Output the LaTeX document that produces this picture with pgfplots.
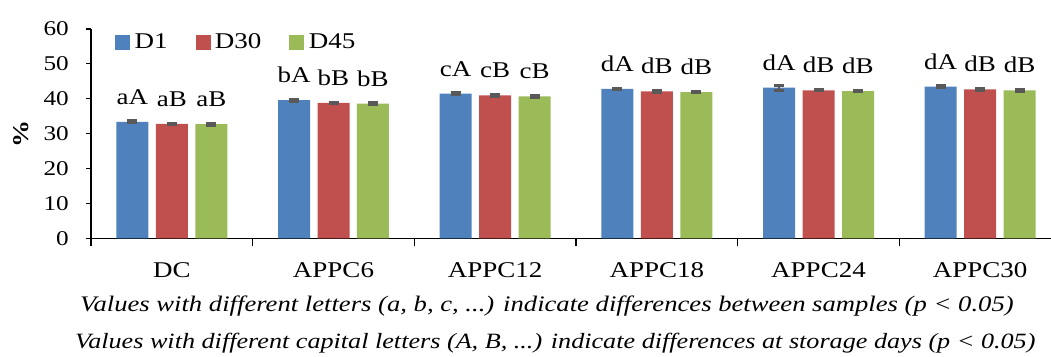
\documentclass[border=0pt]{standalone}
\usepackage{pgfplots}
\usepackage{pgfplotstable}
\pgfplotsset{compat=1.18}
\usepackage{fontspec}
\setmainfont[FakeStretch=1.2]{Liberation Serif}
\definecolor{cblue}{HTML}{4F81BD}
\definecolor{cred}{HTML}{C0504D}
\definecolor{cgreen}{HTML}{9BBB59}
\definecolor{cerr}{HTML}{595959}

\pgfplotstableread{
x y e lab
0 33.4 0.30 aA
1 39.6 0.30 bA
2 41.5 0.20 cA
3 42.8 0.20 dA
4 43.2 0.70 dA
5 43.5 0.25 dA
}\tabA
\pgfplotstableread{
x y e lab
0 32.8 0.25 aB
1 38.8 0.25 bB
2 41.0 0.35 cB
3 42.1 0.30 dB
4 42.4 0.15 dB
5 42.7 0.35 dB
}\tabB
\pgfplotstableread{
x y e lab
0 32.7 0.30 aB
1 38.6 0.25 bB
2 40.7 0.20 cB
3 41.9 0.15 dB
4 42.2 0.15 dB
5 42.4 0.20 dB
}\tabC

\newcommand{\bigf}{\fontsize{22.5}{27}\selectfont}
\newcommand{\notef}{\fontsize{22.2}{27}\selectfont}
\newcommand{\noteg}{\fontsize{21.8}{27}\selectfont}
\newcommand{\tickf}{\fontsize{21}{25}\selectfont}

\begin{document}
\begin{tikzpicture}
\begin{axis}[
  at={(91pt,117.7pt)}, anchor=south west,
  scale only axis, width=970pt, height=209.3pt,
  xmin=-0.5, xmax=5.5, ymin=0, ymax=60,
  axis lines*=left,
  axis line style={line width=1.3pt, black},
  ytick={0,10,...,60},
  xtick={0,...,5},
  xticklabels={DC,APPC6,APPC12,APPC18,APPC24,APPC30},
  minor xtick={-0.5,0.5,...,5.5},
  tick align=outside,
  major tick length=5pt,
  minor tick length=8pt,
  major x tick style={draw=none},
  every tick/.style={black, line width=1.2pt},
  minor tick style={black, line width=1.2pt},
  /pgf/number format/assume math mode=true,
  yticklabel style={font=\tickf, inner sep=0pt},
  yticklabel shift=17pt,
  xticklabel style={font=\bigf, anchor=base, yshift=-34pt},
  ylabel={\textbf{\%}},
  ylabel style={font=\bigf, at={(rel axis cs:0,0.5)}, anchor=center, yshift=70pt},
  legend style={draw=none, fill=none, at={(rel axis cs:0,1)}, anchor=west,
    xshift=24pt, yshift=-13pt, inner sep=0pt, font=\bigf,
    nodes={inner sep=0pt, anchor=west},
    /tikz/every odd column/.append style={column sep=5pt},
    /tikz/every even column/.append style={column sep=28pt}},
  legend columns=3,
  nodes near coords,
  point meta=explicit symbolic,
  every node near coord/.append style={font=\bigf, anchor=base, yshift=17.5pt, inner sep=0pt, black},
  error bars/y dir=both,
  error bars/y explicit,
  error bars/error bar style={cerr, line width=1.2pt},
  error bars/error mark options={rotate=90, mark size=5pt, line width=3pt, cerr},
]
\addplot[ybar, bar width=32pt, bar shift=0pt, fill=cblue, draw=none, forget plot]
  table[x expr=\thisrow{x}-0.2443, y=y, y error=e, meta=lab] {\tabA};
\addplot[ybar, bar width=32pt, bar shift=0pt, fill=cred, draw=none, forget plot]
  table[x=x, y=y, y error=e, meta=lab] {\tabB};
\addplot[ybar, bar width=32pt, bar shift=0pt, fill=cgreen, draw=none, forget plot]
  table[x expr=\thisrow{x}+0.2443, y=y, y error=e, meta=lab] {\tabC};
\addlegendimage{legend image code/.code={\fill[cblue] (0pt,-7pt) rectangle (14pt,7pt);}}
\addlegendentry{D1}
\addlegendimage{legend image code/.code={\fill[cred] (0pt,-7pt) rectangle (14pt,7pt);}}
\addlegendentry{D30}
\addlegendimage{legend image code/.code={\fill[cgreen] (0pt,-7pt) rectangle (14pt,7pt);}}
\addlegendentry{D45}
\end{axis}
\node[anchor=base west, inner sep=0pt, font=\notef\itshape] at (80pt,45pt)
  {Values with different letters (a, b, c, ...) indicate differences between samples (p < 0.05)};
\node[anchor=base west, inner sep=0pt, font=\noteg\itshape] at (75pt,8pt)
  {Values with different capital letters (A, B, ...) indicate differences at storage days (p < 0.05)};
\pgfresetboundingbox
\path[use as bounding box] (0pt,0pt) rectangle (1051pt,356pt);
\end{tikzpicture}
\end{document}
